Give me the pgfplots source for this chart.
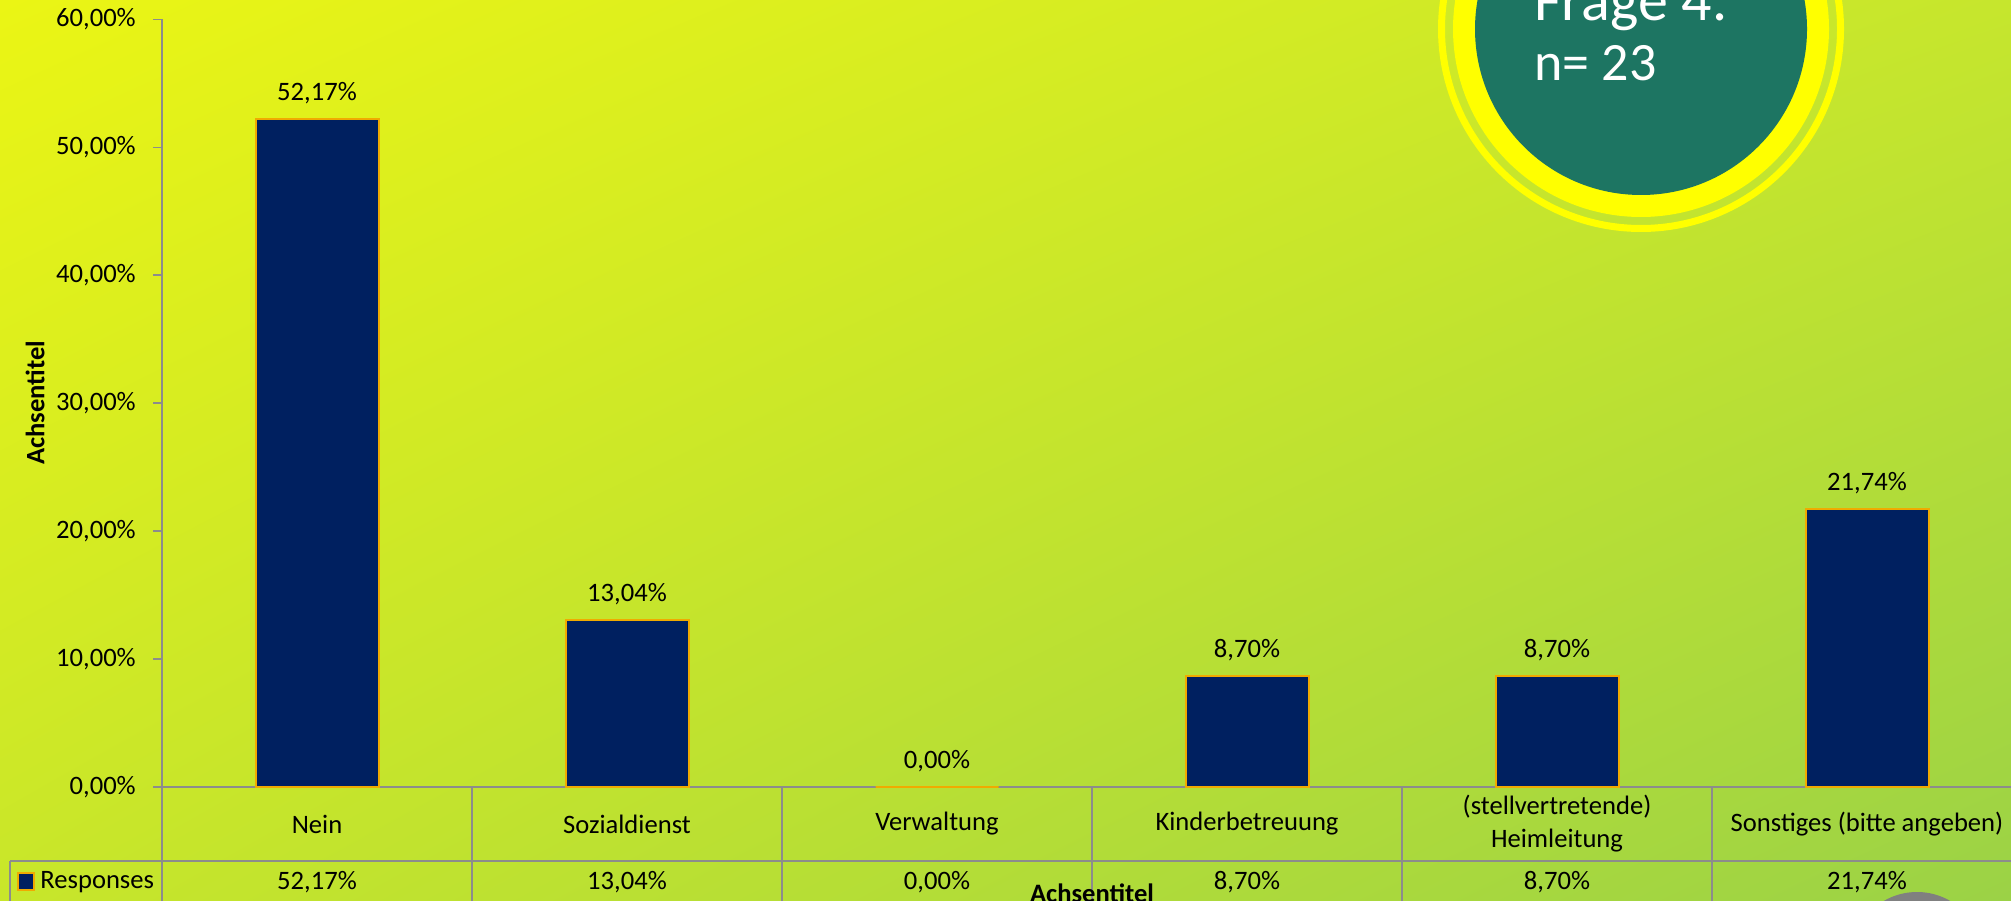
\documentclass[border=0pt]{standalone}
\usepackage{pgfplots}
\pgfplotsset{compat=1.18}
\usepackage{pgfplotstable}
\usetikzlibrary{shadings}
\usepackage{fontspec}
\setmainfont{Carlito}

\definecolor{bgTL}{RGB}{235,245,20}
\definecolor{bgTR}{RGB}{198,230,45}
\definecolor{bgBL}{RGB}{200,230,42}
\definecolor{bgBR}{RGB}{155,210,70}
\definecolor{barnavy}{RGB}{0,32,96}
\definecolor{barrim}{RGB}{240,170,0}
\definecolor{circteal}{RGB}{29,117,98}
\definecolor{ringyel}{RGB}{255,255,0}
\definecolor{linegray}{RGB}{140,140,140}

% Frage 4, n = 23
\pgfplotstableread{
x   v
0.5 52.17
1.5 13.04
2.5 0
3.5 8.70
4.5 8.70
5.5 21.74
}\answers

\begin{document}
\fontsize{13.3}{16}\selectfont
\begin{tikzpicture}
\useasboundingbox (0,0) rectangle (1005.5pt,450pt);
\shade[upper left=bgTL, upper right=bgTR, lower left=bgBL, lower right=bgBR]
  (0,0) rectangle (1005.5pt,450pt);

% pixel grid of the slide: (x px, y px from top)
\begin{scope}[shift={(0pt,450pt)}, x=0.5pt, y=-0.5pt]
  \draw[ringyel, line width=3.5pt] (1641,29) circle[radius=199.5];
  \fill[ringyel] (1641,29) circle[radius=188];
  \fill[circteal] (1641,29) circle[radius=166];
  \node[anchor=base west, inner sep=0, text=white, font=\fontsize{30}{36}\selectfont] at (1534,21) {Frage 4.};
  \node[anchor=base west, inner sep=0, text=white, font=\fontsize{27}{32}\selectfont] at (1534,81) {n= 23};
  \fill[gray] (1917,958) circle[radius=66];
\end{scope}

\begin{axis}[
  at={(81pt,56.5pt)}, anchor=south west,
  scale only axis, width=930pt, height=383.85pt,
  xmin=0, xmax=6, ymin=0, ymax=60,
  enlargelimits=false, clip=false,
  axis x line*=bottom, axis y line*=left,
  axis line style={-, linegray, line width=0.75pt},
  ytick={0,10,...,60},
  tick align=outside,
  ytick style={linegray, line width=0.75pt},
  major tick length=4.5pt,
  xtick={0.5,1.5,...,5.5},
  xtick style={draw=none},
  xticklabels={Nein, Sozialdienst, Verwaltung, Kinderbetreuung, {(stellvertretende)\\Heimleitung}, Sonstiges (bitte angeben)},
  xticklabel style={anchor=center, align=center, yshift=-14pt, font=\fontsize{13.3}{16.5}\selectfont},
  yticklabel={\pgfmathprintnumber{\tick}\%},
  yticklabel style={xshift=-4pt},
  /pgf/number format/.cd, fixed, fixed zerofill, precision=2, use comma, assume math mode=true,
]
\addplot[ybar, bar width=61.5pt, fill=barnavy, draw=barrim, line width=1pt,
  point meta=explicit,
  nodes near coords={\pgfmathprintnumber{\pgfplotspointmeta}\%},
  every node near coord/.append style={anchor=center, yshift=13pt, text=black}]
  table[x=x, y=v, meta=v] {\answers};
\addplot[draw=none, mark=none, point meta=explicit,
  nodes near coords={\pgfmathprintnumber{\pgfplotspointmeta}\%},
  every node near coord/.append style={anchor=center, text=black}]
  table[x=x, y expr=-7.42, meta=v] {\answers};
\end{axis}

\begin{scope}[shift={(0pt,450pt)}, x=0.5pt, y=-0.5pt]
  \draw[linegray, line width=0.75pt] (10,861) -- (2022,861);
  \draw[linegray, line width=0.75pt] (10,861) -- (10,905);
  \foreach \bx in {162,472,782,1092,1402,1712} {
    \draw[linegray, line width=0.75pt] (\bx,787) -- (\bx,905);
  }
  \draw[fill=barnavy, draw=barrim, line width=1.1pt] (18,873) rectangle (34,890);
  \node[anchor=west, inner sep=0] at (40,882) {Responses};
  \node[anchor=center, rotate=90, font=\bfseries] at (35,403) {Achsentitel};
  \node[anchor=base, inner sep=0, font=\bfseries] at (1092,902) {Achsentitel};
\end{scope}
\end{tikzpicture}
\end{document}
